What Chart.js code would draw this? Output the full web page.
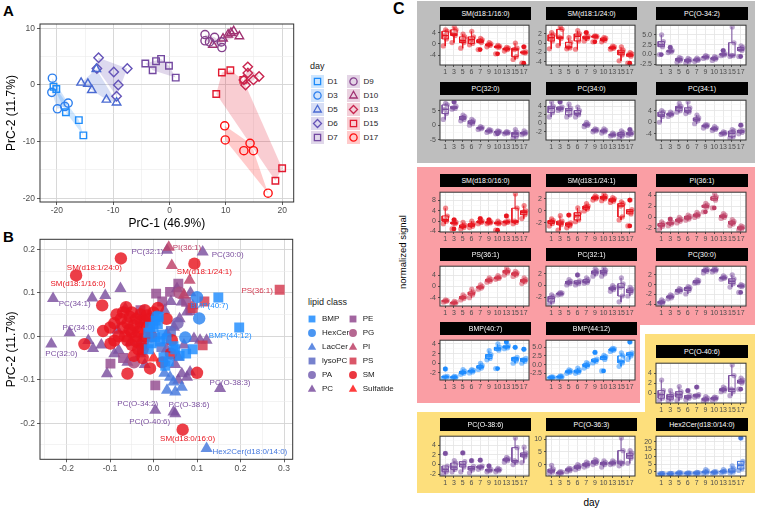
<!DOCTYPE html>
<html>
<head>
<meta charset="utf-8">
<script src="https://cdn.jsdelivr.net/npm/chart.js@4.4.1/dist/chart.umd.min.js"></script>
<style>
html,body{margin:0;padding:0;background:#fff}
body{position:relative;width:758px;height:509px;overflow:hidden;font-family:"Liberation Sans",Arial,Helvetica,sans-serif}
canvas{position:absolute}
.t{position:absolute;white-space:nowrap;line-height:1;color:#000}
.letter{font-weight:bold;font-size:15px}
.bg{position:absolute}
.strip{position:absolute;background:#000;color:#fff;font-size:7px;text-align:center;height:13px;line-height:13px;overflow:hidden;white-space:nowrap}
.key{position:absolute;display:flex;align-items:center}
.key span{font-size:8px;color:#1a1a1a;margin-left:4px}
.lt{position:absolute;white-space:nowrap;line-height:1;color:#1a1a1a;font-weight:normal;font-size:9px}
</style>
</head>
<body>
<div class="bg" style="left:417px;top:1px;width:338px;height:162px;background:#BEBEBE"></div>
<div class="bg" style="left:417px;top:167px;width:338px;height:158px;background:#FA9EA4"></div>
<div class="bg" style="left:417px;top:325px;width:223px;height:78px;background:#FA9EA4"></div>
<div class="bg" style="left:645px;top:334px;width:110px;height:78px;background:#FDDF7C"></div>
<div class="bg" style="left:417px;top:412px;width:338px;height:81px;background:#FDDF7C"></div>
<div class="t letter" style="left:3px;top:3px">A</div>
<div class="t letter" style="left:3px;top:228.5px">B</div>
<div class="t letter" style="left:393px;top:1px;font-size:16px">C</div>
<div class="t" style="left:403px;top:252px;font-size:9.5px;transform:translate(-50%,-50%) rotate(-90deg)">normalized signal</div>
<div class="t" style="left:591.5px;top:503px;font-size:10px;transform:translate(-50%,-50%)">day</div>
<div class="lt" style="left:310px;top:62px">day</div>
<div class="lt" style="left:308px;top:298px">lipid class</div>
<script>
// ================= DATA =================
// Panel A: PCA scores per day (PrC-1, PrC-2)
const dayNames = ['D1','D3','D5','D6','D7','D9','D10','D13','D15','D17'];
const scoresD1 = [[-20.6,-0.3],[-20.1,-0.7],[-18.4,-4.8],[-16.1,-6.2],[-15.3,-8.9]];
const scoresD3 = [[-20.8,1.2],[-20.9,-1.3],[-19.9,-4.2],[-18.6,-3.8],[-18.0,-3.2]];
const scoresD5 = [[-15.7,0.4],[-14.5,0.2],[-13.8,-0.9],[-13.0,2.8],[-11.2,-2.6],[-9.4,-3.1]];
const scoresD6 = [[-12.6,4.8],[-12.9,2.9],[-9.9,2.3],[-7.5,2.9],[-9.1,0.0],[-9.4,-2.0]];
const scoresD7 = [[-4.3,3.8],[-3.0,2.6],[-2.4,4.2],[-1.5,4.6],[-0.1,3.4],[1.1,1.3]];
const scoresD9 = [[6.3,8.9],[6.3,7.8],[8.0,8.4],[9.3,6.6],[7.1,7.6],[9.2,7.6]];
const scoresD10 = [[7.7,7.1],[10.4,8.9],[11.4,9.5],[12.4,8.6],[10.9,9.2],[9.5,8.2]];
const scoresD13 = [[13.9,3.2],[13.9,2.1],[13.2,0.9],[13.5,0.0],[14.9,0.9],[15.9,1.5]];
const scoresD15 = [[9.3,2.2],[10.8,2.6],[8.3,-1.6],[13.1,0.9],[18.8,-16.9],[20.0,-14.7]];
const scoresD17 = [[9.8,-7.2],[9.9,-9.7],[13.2,-11.6],[14.3,-10.3],[14.9,-11.6],[17.5,-19.1]];
const pcaTitleX = 'PrC-1 (46.9%)';
const pcaTitleY = 'PrC-2 (11.7%)';

// Panel B: loadings per lipid class
const classNames = ['BMP','HexCer','LacCer','lysoPC','PA','PC','PE','PG','PI','PS','SM','Sulfatide'];
const loadBMP = [[0.090,-0.030],[0.075,-0.040],[0.046,-0.023],[0.023,-0.048],[0.027,-0.068],[0.000,0.021],[0.004,-0.002],[-0.011,-0.030],[0.010,0.028],[0.005,0.036],[-0.012,0.008],[0.015,-0.012],[0.035,-0.058],[0.050,-0.030],[0.020,0.004],[-0.004,-0.016],[0.060,-0.045],[0.030,-0.005],[-0.008,0.022],[0.012,0.045]];
const loadHexCer = [[0.100,0.090],[0.105,0.041],[0.073,-0.003],[0.008,0.045]];
const loadLacCer = [[0.046,-0.105],[0.065,-0.117],[0.031,-0.124],[0.038,-0.094],[0.050,-0.128],[0.025,-0.085]];
const loadLysoPC = [[0.018,-0.025],[0.040,0.012]];
const loadPA = [[-0.028,-0.022],[0.055,0.030]];
const loadPC = [[-0.111,0.094],[-0.076,0.110],[-0.141,0.088],[-0.139,-0.028],[-0.107,-0.086],[-0.083,0.014],[-0.080,-0.032],[-0.053,-0.013],[0.054,0.110],[0.065,0.079],[0.077,0.056],[0.047,0.021],[0.093,-0.005],[0.122,-0.009],[0.057,-0.048],[0.065,-0.086],[0.084,-0.082],[0.077,-0.094],[0.057,-0.101],[0.031,0.006],[0.060,0.040],[0.070,-0.020],[-0.030,-0.040],[-0.060,-0.060],[-0.150,-0.010],[-0.120,-0.020],[0.040,0.080],[0.025,0.060],[0.085,0.100],[-0.020,-0.065],[0.050,-0.065],[-0.090,-0.040],[0.030,-0.030],[0.107,-0.009]];
const loadPE = [[0.006,0.098],[0.038,0.102],[0.057,0.121],[0.075,0.079],[-0.099,-0.063],[0.004,-0.113],[-0.030,0.060],[0.020,0.080],[-0.070,-0.050],[0.085,0.060]];
const loadPG = [[0.060,0.100],[-0.045,-0.060]];
const loadPI = [[0.042,0.163],[0.083,0.129],[-0.065,0.064],[0.070,0.095],[0.090,0.070]];
const loadPS = [[0.117,0.080],[0.113,-0.021],[0.090,0.065]];
const loadSM = [[-0.118,0.071],[-0.063,0.067],[-0.116,0.012],[-0.159,-0.018],[-0.099,-0.017],[-0.060,-0.086],[-0.008,-0.074],[0.100,-0.084],[0.042,-0.009],[-0.050,0.009],[-0.015,0.021],[-0.030,0.050],[-0.020,0.060],[-0.040,0.040],[-0.060,0.030],[-0.070,0.020],[-0.080,0.000],[-0.090,-0.010],[-0.050,-0.020],[-0.035,-0.030],[-0.045,-0.045],[-0.025,-0.050],[-0.010,0.040],[0.000,0.055],[-0.055,0.045],[-0.065,0.000],[-0.040,0.000],[-0.030,0.020],[-0.020,0.035],[-0.075,0.040],[-0.100,0.020],[0.010,0.065],[-0.005,0.000],[0.020,-0.060],[0.040,-0.040],[-0.085,0.050],[-0.025,-0.015],[0.030,0.040],[-0.045,0.025],[-0.035,0.010],[-0.055,0.015],[-0.020,0.000],[-0.060,-0.010],[-0.040,-0.012],[-0.030,0.035],[-0.050,0.055],[-0.015,0.048],[-0.070,0.055],[-0.090,0.030],[-0.025,-0.030]];
const loadSulfatide = [[-0.020,0.015],[0.000,-0.050]];
const labelNames = ['PC(32:1)','PI(36:1)','PC(30:0)','SM(d18:1/24:0)','SM(d18:1/16:0)','SM(d18:1/24:1)','PS(36:1)','PC(34:1)','BMP(40:7)','PC(34:0)','PC(32:0)','BMP(44:12)','PC(O-38:3)','PC(O-34:2)','PC(O-38:6)','PC(O-40:6)','SM(d18:0/16:0)','Hex2Cer(d18:0/14:0)'];
const labelClass = ['PC','PI','PC','SM','SM','SM','PS','PC','BMP','PC','PC','BMP','PC','PC','PC','PC','SM','LacCer'];
const labelX = [0.031,0.035,0.113,-0.075,-0.178,0.094,0.290,-0.231,0.149,-0.193,-0.235,0.197,0.153,0.004,0.046,0.050,0.067,0.122];
const labelY = [0.198,0.205,0.194,0.179,0.140,0.167,0.107,0.087,0.089,0.008,-0.018,0.020,-0.120,-0.170,-0.174,-0.178,-0.215,-0.258];

// Panel C: normalized signal per lipid, 10 days x replicates
const dayTicks = ['1','3','5','6','7','9','10','13','15','17'];
const cPanelNames = ['SM(d18:1/16:0)','SM(d18:1/24:0)','PC(O-34:2)','PC(32:0)','PC(34:0)','PC(34:1)','SM(d18:0/16:0)','SM(d18:1/24:1)','PI(36:1)','PS(36:1)','PC(32:1)','PC(30:0)','BMP(40:7)','BMP(44:12)','PC(O-40:6)','PC(O-38:6)','PC(O-36:3)','Hex2Cer(d18:0/14:0)'];
const cPanelClass = ['SM','SM','PC','PC','PC','PC','SM','SM','PI','PS','PC','PC','BMP','BMP','PC','PC','PC','LacCer'];
const cPanelTicks = [[-4,0,4],[-4,-2,0,2],[-2.5,0,2.5,5],[-5,0,5],[-4,-2,0,2,4],[-4,0,4],[-4,0,4,8],[-2,0,2],[-2,0,2,4],[-4,0,4],[-2,0,2],[-4,-2,0,2],[-2,0,2,4],[-2.5,0,2.5,5],[-2,0,2,4,6],[-2,0,2,4],[0,5,10],[0,5,10,15,20]];
const sigSM16 = [[-0.7,1.8,3.0,4.5,5.0],[0.5,3.0,3.5,5.0,6.0],[-1.5,0.5,1.2,2.5,3.5],[-0.3,0.2,1.5,2.5,4.5],[-2.0,0.5,1.0,1.5,2.0],[-1.0,-0.5,-0.3,0.0,0.5],[-3.5,-1.2,-1.0,-0.8,-0.5],[-2.5,-2.0,-1.8,-1.5,-1.2],[-5.5,-4.5,-2.0,-1.5,0.3],[-6.8,-3.2,-3.0,-2.8,-1.0]];
const sigSM24 = [[-1.2,0.5,1.2,1.8,2.3],[-0.5,1.0,1.3,3.0,3.5],[-1.2,-1.0,-0.8,0.2,1.2],[-1.3,0.5,1.5,2.0,2.7],[0.5,1.0,1.2,1.5,2.3],[0.3,1.3,1.5,1.5,1.6],[0.3,0.6,0.8,1.1,1.2],[-1.3,-1.1,-1.0,-0.8,-0.6],[-3.8,-2.5,-2.0,-1.5,-0.8],[-4.3,-2.8,-2.5,-2.3,-2.0]];
const sigPCO342 = [[0.0,2.0,2.5,3.3,5.0],[0.5,0.7,0.9,1.0,1.8],[-2.0,-1.6,-1.3,-1.0,-0.8],[-2.2,-1.8,-1.5,-1.3,-1.0],[-1.8,-1.5,-1.3,-1.2,-0.9],[-1.0,-0.8,-0.6,-0.5,-0.3],[-1.5,-1.2,-1.0,-0.8,-0.5],[-0.3,-0.1,0.0,0.2,1.0],[-0.5,-0.3,-0.2,3.0,7.0],[-0.5,1.0,1.3,1.8,2.2]];
const sigPC320 = [[2.0,4.0,5.5,7.0,7.5],[5.5,5.8,6.0,6.5,8.0],[1.5,2.0,2.5,3.0,3.5],[0.0,0.5,1.0,1.5,2.0],[-1.5,-1.2,-1.0,-0.8,-0.5],[-2.5,-2.2,-2.0,-1.8,-1.5],[-3.0,-2.5,-2.3,-2.2,-2.0],[-3.0,-2.8,-2.6,-2.5,-2.2],[-4.5,-4.0,-3.0,-2.5,-1.5],[-3.3,-3.0,-2.8,-2.5,-2.0]];
const sigPC340 = [[1.5,2.5,3.5,4.0,5.0],[3.0,3.2,3.5,3.8,5.0],[1.5,2.0,3.0,3.5,4.5],[1.5,2.0,2.3,3.0,3.8],[-0.8,-0.5,-0.3,-0.2,0.2],[-2.0,-1.8,-1.6,-1.5,-1.3],[-2.3,-2.0,-1.8,-1.6,-1.3],[-3.0,-2.8,-2.7,-2.6,-2.3],[-3.5,-3.0,-2.6,-2.2,-1.8],[-2.8,-2.6,-2.4,-2.2,-1.5]];
const sigPC341 = [[0.0,2.0,2.5,3.5,4.0],[2.0,2.5,2.8,3.0,3.5],[3.5,4.0,5.0,5.5,6.5],[3.0,3.5,4.0,5.0,7.0],[-0.5,0.5,1.0,1.5,2.5],[-2.0,-1.5,-1.2,-1.0,-0.8],[-2.8,-2.5,-2.2,-2.0,-1.5],[-4.2,-4.0,-3.8,-3.6,-3.3],[-5.5,-5.0,-3.8,-3.0,-2.5],[-4.0,-3.5,-3.0,-2.8,-1.0]];
const sigSM016 = [[-1.0,0.0,0.5,2.0,5.0],[-3.0,-1.0,-0.8,-0.5,0.5],[-3.0,-2.5,-2.0,-1.5,-0.5],[-2.5,-2.0,-1.5,-1.0,0.0],[-1.0,-0.5,-0.2,0.0,1.0],[-1.0,-0.7,-0.5,-0.3,0.5],[-3.5,-1.0,-0.8,-0.6,0.0],[-1.0,-0.5,-0.3,0.0,2.0],[-1.0,-0.5,0.0,5.0,10.5],[1.0,2.5,3.5,4.0,6.0]];
const sigSM241 = [[-2.5,-2.1,-1.8,-1.6,-1.3],[-3.2,-2.3,-2.0,-1.7,-0.8],[-2.8,-2.5,-2.2,-2.0,-0.7],[-1.8,-1.5,-0.8,-0.3,0.5],[0.0,0.3,0.6,0.8,1.2],[1.8,2.0,2.2,2.3,2.5],[1.7,2.0,2.2,2.4,2.8],[1.4,1.6,1.8,2.0,2.2],[-1.5,-1.0,0.8,1.2,1.5],[-2.5,-0.5,-0.1,0.2,1.8]];
const sigPI361 = [[-2.2,-1.6,-1.4,-1.1,-0.8],[-1.5,-1.2,-1.0,-0.9,-0.3],[-1.0,-0.7,-0.5,-0.3,0.0],[-0.5,-0.3,-0.1,0.2,0.4],[0.0,0.2,0.4,0.6,0.9],[1.0,1.8,2.0,2.2,2.5],[1.7,3.1,3.4,3.7,4.2],[-0.2,0.0,0.2,0.4,0.7],[-1.5,-1.2,-1.0,-0.7,-0.4],[-2.3,-2.1,-1.9,-1.7,-1.5]];
const sigPS361 = [[-5.6,-5.3,-5.2,-5.0,-4.8],[-6.3,-6.0,-5.8,-5.6,-5.3],[-4.8,-4.3,-4.0,-3.6,-3.0],[-4.0,-3.0,-2.5,-2.0,-1.0],[-1.0,-0.6,-0.3,0.0,0.5],[1.5,1.8,2.2,2.5,3.0],[2.5,2.8,3.0,3.3,3.8],[4.0,4.8,5.2,5.6,6.5],[3.5,4.0,4.5,4.8,5.3],[1.0,1.6,2.0,2.4,3.0]];
const sigPC321 = [[-3.2,-2.8,-2.2,-1.9,-1.6],[-1.6,-1.5,-1.4,-1.3,-1.2],[0.1,0.3,0.5,0.7,1.0],[0.1,0.3,0.5,0.8,1.8],[0.4,0.5,0.7,1.0,1.3],[1.6,2.0,2.3,2.5,2.9],[1.6,2.0,2.3,2.6,3.0],[-1.0,-0.7,-0.5,-0.3,0.0],[-2.8,-1.8,-0.3,0.3,1.3],[-1.8,-1.2,-0.9,-0.6,-0.3]];
const sigPC300 = [[-4.0,-3.8,-3.6,-3.4,-3.1],[-2.9,-2.7,-2.5,-2.3,-2.1],[-1.6,-1.4,-1.2,-1.0,-0.8],[-1.9,-1.2,-0.8,-0.6,-0.4],[0.3,0.4,0.5,0.8,1.0],[2.4,2.7,2.9,3.1,3.4],[2.6,2.8,3.0,3.1,3.4],[1.1,1.3,1.4,1.5,1.8],[-0.5,0.2,0.7,1.2,2.0],[-1.6,-0.4,-0.3,-0.2,0.0]];
const sigBMP407 = [[-3.1,-2.9,-2.8,-2.7,-1.2],[-3.1,-3.0,-2.9,-2.8,-2.7],[-2.3,-2.1,-1.9,-1.7,-1.3],[-2.0,-1.8,-1.6,-1.5,-1.3],[-1.3,-1.0,-0.8,-0.5,0.0],[0.7,1.0,1.5,1.8,2.6],[-1.1,2.7,3.0,3.3,4.0],[3.0,3.2,3.4,3.6,4.4],[0.0,0.5,0.9,1.2,3.3],[0.0,0.4,0.7,1.0,2.9]];
const sigBMP4412 = [[-3.9,-3.8,-3.7,-3.6,-3.5],[-3.8,-3.6,-3.5,-3.4,-3.2],[-2.5,-2.2,-2.0,-1.8,-1.5],[-2.5,-2.2,-1.9,-1.6,-1.0],[-1.0,-0.5,-0.2,0.2,0.6],[0.5,0.9,1.2,1.6,3.5],[-1.8,1.5,2.0,2.3,2.7],[3.8,4.1,4.3,4.5,4.7],[-0.5,0.5,1.0,2.5,3.4],[1.5,2.5,3.0,3.4,6.5]];
const sigPCO406 = [[-1.5,-1.0,-0.3,0.5,2.6],[-1.5,-1.2,-0.7,-0.3,0.5],[-1.5,-0.8,-0.3,0.3,1.3],[-1.3,-1.0,-0.8,-0.5,0.5],[-0.8,-0.6,-0.5,-0.3,1.2],[-1.6,-1.4,-1.2,-1.0,-0.7],[-1.4,-1.2,-1.0,-0.9,-0.8],[0.3,0.5,0.7,0.9,1.2],[-0.5,0.3,0.8,3.5,5.6],[0.8,2.0,2.3,2.6,3.0]];
const sigPCO386 = [[-2.0,-1.5,-1.0,-0.3,2.3],[-1.5,-1.0,-0.5,0.3,0.8],[-1.5,-0.5,0.0,0.6,2.4],[-1.7,-1.1,-0.8,-0.4,0.8],[-1.0,-0.7,-0.5,-0.3,0.9],[-1.5,-1.3,-1.2,-1.0,-0.3],[-1.5,-1.3,-1.1,-1.0,-0.8],[0.5,0.8,1.0,1.2,1.5],[0.0,0.5,0.8,3.5,5.5],[0.4,1.6,2.0,2.4,3.6]];
const sigPCO363 = [[-3.5,-3.0,-2.5,-1.8,-0.3],[-3.8,-3.5,-3.2,-3.0,-2.8],[-2.8,-2.4,-2.0,-1.7,-1.5],[-2.0,-1.5,-1.0,-0.5,0.0],[-1.0,-0.5,0.0,0.5,1.0],[0.0,0.5,1.0,1.5,2.0],[-1.0,0.0,0.5,0.8,1.5],[0.0,0.3,0.6,1.0,1.5],[-0.5,0.3,1.0,5.5,10.5],[0.5,2.5,3.5,4.5,5.5]];
const sigHex2Cer = [[-1.5,-1.3,-1.2,-1.1,-1.0],[-1.4,-1.3,-1.2,-1.1,-1.0],[-1.3,-1.0,-0.8,-0.6,-0.3],[-1.2,-1.0,-0.9,-0.8,-0.6],[-1.0,-0.8,-0.7,-0.5,-0.3],[-1.0,-0.5,0.0,0.5,1.5],[-0.8,-0.5,-0.3,0.0,0.3],[-0.5,0.0,0.3,0.6,1.5],[-0.5,-0.2,0.5,2.0,4.0],[1.0,2.0,4.5,7.0,22.5]];

// ================= STYLE / RENDER =================
const FONT = '"Liberation Sans", Arial, sans-serif';
const dayColors = ['#1E8CFA','#2E80EE','#4A6AD2','#6453B8','#7348A0','#84408C','#A03272','#C8244E','#E21A30','#FF1010'];
const dayShapes = ['rect','circle','triangle','rectRot','rect','circle','triangle','rectRot','rect','circle'];
const classColors = ['#1E8CFF','#2A84F0','#4477DD','#5E6BC4','#7560B2','#7B4F9F','#924A8F','#A84C7E','#BD3F66','#D4384E','#E8141E','#FF1A1A'];
const classShapes = ['rect','circle','triangle','rect','circle','triangle','rect','circle','triangle','rect','circle','triangle'];

const rgba = (h,a)=>{const n=parseInt(h.slice(1),16);return `rgba(${n>>16},${(n>>8)&255},${n&255},${a})`;};
const isMaj = (v, arr) => v !== undefined && arr.some(m => Math.abs(m - v) < 1e-6);
function gridVals(min,max,step){const out=[];for(let k=Math.ceil(min/step-1e-9);k*step<=max+1e-9;k++){out.push(Math.round(k*step*1e6)/1e6);}return out;}
function hull(pts){const p=pts.map(q=>q.slice()).sort((a,b)=>a[0]-b[0]||a[1]-b[1]);const cr=(o,a,b)=>(a[0]-o[0])*(b[1]-o[1])-(a[1]-o[1])*(b[0]-o[0]);const lo=[],up=[];for(const q of p){while(lo.length>=2&&cr(lo[lo.length-2],lo[lo.length-1],q)<=0)lo.pop();lo.push(q);}for(let i=p.length-1;i>=0;i--){const q=p[i];while(up.length>=2&&cr(up[up.length-2],up[up.length-1],q)<=0)up.pop();up.push(q);}up.pop();lo.pop();return lo.concat(up);}
function quant(s,p){const h=(s.length-1)*p,l=Math.floor(h);return l+1<s.length? s[l]+(h-l)*(s[l+1]-s[l]) : s[l];}

const framePlugin = {id:'frame',
  beforeDraw(ch){const a=ch.chartArea,c=ch.ctx;c.save();c.fillStyle='#fff';c.fillRect(a.left,a.top,a.right-a.left,a.bottom-a.top);c.restore();},
  afterDraw(ch){const a=ch.chartArea,c=ch.ctx;c.save();c.strokeStyle='#333';c.lineWidth=1;c.strokeRect(a.left,a.top,a.right-a.left,a.bottom-a.top);c.restore();}};

function makeScale(o){
  return {type:'linear',min:o.min,max:o.max,position:o.pos,
    afterBuildTicks:s=>{s.ticks=o.vals.map(v=>({value:v}));},
    afterFit:s=>{if(o.pos==='left')s.width=o.size;else s.height=o.size;},
    ticks:{autoSkip:false,maxRotation:0,minRotation:0,padding:o.pad,color:'#4D4D4D',font:{family:FONT,size:o.fs},
      callback:v=>isMaj(v,o.majors)?o.fmt(v):''},
    grid:{drawTicks:true,tickLength:o.tl,
      color:c=>isMaj(c.tick&&c.tick.value,o.majors)?o.gMaj:o.gMin,
      lineWidth:c=>isMaj(c.tick&&c.tick.value,o.majors)?o.wMaj:o.wMin,
      tickColor:c=>isMaj(c.tick&&c.tick.value,o.majors)?'#333':'rgba(0,0,0,0)',tickWidth:0.8},
    border:{display:false},
    title:o.title?{display:true,text:o.title,color:'#000',font:{family:FONT,size:o.tfs},padding:o.tpad}:{display:false}};
}

function mk(left,top,w,h,config){
  const cv=document.createElement('canvas');
  cv.width=w;cv.height=h;cv.style.left=left+'px';cv.style.top=top+'px';cv.style.width=w+'px';cv.style.height=h+'px';
  document.body.appendChild(cv);
  config.options=Object.assign({responsive:false,animation:false,devicePixelRatio:1,events:[]},config.options);
  config.options.plugins=Object.assign({legend:{display:false},tooltip:{enabled:false}},config.options.plugins||{});
  config.plugins=(config.plugins||[]).concat([framePlugin]);
  return new Chart(cv.getContext('2d'),config);
}

// ---------- Panel A ----------
const pcaSets=[scoresD1,scoresD3,scoresD5,scoresD6,scoresD7,scoresD9,scoresD10,scoresD13,scoresD15,scoresD17];
const shapeRadA={rect:4.6,circle:4.1,triangle:4.9,rectRot:4.7};
const dsA=[];
pcaSets.forEach((pts,i)=>{const h=hull(pts);h.push(h[0]);
  dsA.push({type:'line',data:h.map(p=>({x:p[0],y:p[1]})),fill:'shape',backgroundColor:rgba(dayColors[i],0.22),borderColor:'rgba(0,0,0,0)',borderWidth:0,pointRadius:0,tension:0,order:20});});
pcaSets.forEach((pts,i)=>{
  dsA.push({type:'scatter',data:pts.map(p=>({x:p[0],y:p[1]})),pointStyle:dayShapes[i],pointRadius:shapeRadA[dayShapes[i]],backgroundColor:'rgba(0,0,0,0)',borderColor:dayColors[i],borderWidth:1.4,order:1});});
mk(0,0,300,231,{type:'scatter',data:{datasets:dsA},options:{
  layout:{padding:{top:24,right:3.3,left:0,bottom:0}},
  scales:{
    x:makeScale({min:-23.0,max:22.05,pos:'bottom',vals:gridVals(-23,22.05,5),majors:[-20,-10,0,10,20],fmt:v=>String(v),size:29,pad:1,fs:8.5,tl:3,gMaj:'#D4D4D4',gMin:'#EBEBEB',wMaj:0.9,wMin:0.6,title:pcaTitleX,tfs:12,tpad:{top:0,bottom:0}}),
    y:makeScale({min:-20.65,max:10.76,pos:'left',vals:gridVals(-20.65,10.76,5),majors:[-20,-10,0,10],fmt:v=>String(v),size:40,pad:2,fs:8.5,tl:3,gMaj:'#D4D4D4',gMin:'#EBEBEB',wMaj:0.9,wMin:0.6,title:pcaTitleY,tfs:12,tpad:{top:4,bottom:0}})}}});

// legend A
function svgShape(shape,color,filled,s,r){
  const c=s/2;const st=filled?`fill="${color}"`:`fill="none" stroke="${color}" stroke-width="1.3"`;
  if(shape==='rect'){const h=r*0.78;return `<rect x="${c-h}" y="${c-h}" width="${2*h}" height="${2*h}" ${st}/>`;}
  if(shape==='circle')return `<circle cx="${c}" cy="${c}" r="${r*0.9}" ${st}/>`;
  if(shape==='triangle')return `<polygon points="${c},${c-r*1.05} ${c+r*0.95},${c+r*0.62} ${c-r*0.95},${c+r*0.62}" ${st}/>`;
  return `<polygon points="${c},${c-r} ${c+r},${c} ${c},${c+r} ${c-r},${c}" ${st}/>`;
}
dayNames.forEach((n,i)=>{
  const col=i<5?0:1,row=i%5;
  const d=document.createElement('div');d.className='key';
  d.style.left=(col?346.5:310.5)+'px';d.style.top=(74.5+row*14)+'px';
  d.innerHTML=`<svg width="13" height="13" style="background:${rgba(dayColors[i],0.22)}">${svgShape(dayShapes[i],dayColors[i],false,13,4)}</svg><span>${n}</span>`;
  document.body.appendChild(d);
});

// ---------- Panel B ----------
const classLoads={BMP:loadBMP,HexCer:loadHexCer,LacCer:loadLacCer,lysoPC:loadLysoPC,PA:loadPA,PC:loadPC,PE:loadPE,PG:loadPG,PI:loadPI,PS:loadPS,SM:loadSM,Sulfatide:loadSulfatide};
const shapeRadB={rect:7.0,circle:6.2,triangle:7.0};
const drawSeq=['PC','PE','PG','PI','PS','lysoPC','PA','SM','Sulfatide','LacCer','HexCer','BMP'];
const dsB=drawSeq.map((cls,k)=>{
  const ci=classNames.indexOf(cls);
  const pts=classLoads[cls].map(p=>({x:p[0],y:p[1]}));
  labelNames.forEach((n,j)=>{if(labelClass[j]===cls)pts.push({x:labelX[j],y:labelY[j]});});
  return {data:pts,pointStyle:classShapes[ci],pointRadius:shapeRadB[classShapes[ci]],backgroundColor:rgba(classColors[ci],0.82),borderWidth:0,order:drawSeq.length-k};
});
const labelOffsets=[[-3.5,2,'right'],[4,0.5,'left'],[9,3.3,'left'],[-26.5,9,'center'],[2,8.3,'center'],[10,8.4,'center'],[-6.7,1.4,'right'],[5.6,5.7,'left'],[-9,8.7,'center'],[9,-5.4,'center'],[10,10,'center'],[-9,8.7,'center'],[10,-6,'center'],[-17.5,-6.7,'center'],[15.5,-6.7,'center'],[-25.5,8.4,'center'],[5,9,'center'],[6,3.4,'left']];
const labelPlugin={id:'lbl',afterDatasetsDraw(ch){const c=ch.ctx,xs=ch.scales.x,ys=ch.scales.y;c.save();c.font='8px '+FONT;c.textBaseline='middle';
  labelNames.forEach((n,j)=>{const px=xs.getPixelForValue(labelX[j]),py=ys.getPixelForValue(labelY[j]);const o=labelOffsets[j];
    c.fillStyle=classColors[classNames.indexOf(labelClass[j])];c.textAlign=o[2];c.fillText(n,px+o[0],py+o[1]);});c.restore();}};
mk(0,230,300,251,{type:'scatter',data:{datasets:dsB},plugins:[labelPlugin],options:{
  layout:{padding:{top:9.3,right:7.3,left:0,bottom:0}},
  scales:{
    x:makeScale({min:-0.261,max:0.32,pos:'bottom',vals:gridVals(-0.261,0.32,0.05),majors:[-0.2,-0.1,0,0.1,0.2,0.3],fmt:v=>v.toFixed(1),size:21.7,pad:1,fs:8.5,tl:3,gMaj:'#D4D4D4',gMin:'#EBEBEB',wMaj:0.9,wMin:0.6}),
    y:makeScale({min:-0.283,max:0.223,pos:'left',vals:gridVals(-0.283,0.223,0.05),majors:[-0.2,-0.1,0,0.1,0.2],fmt:v=>v.toFixed(1),size:40,pad:2,fs:8.5,tl:3,gMaj:'#D4D4D4',gMin:'#EBEBEB',wMaj:0.9,wMin:0.6,title:pcaTitleY,tfs:12,tpad:{top:4,bottom:0}})}}});

// legend B
classNames.forEach((n,i)=>{
  const col=i<6?0:1,row=i%6;
  const d=document.createElement('div');d.className='key';
  d.style.left=(col?346.7:306)+'px';d.style.top=(312.5+row*14)+'px';
  d.innerHTML=`<svg width="12" height="12">${svgShape(classShapes[i],rgba(classColors[i],0.85),true,12,4.4)}</svg><span>${n}</span>`;
  document.body.appendChild(d);
});

// ---------- Panel C ----------
const cSignals=[sigSM16,sigSM24,sigPCO342,sigPC320,sigPC340,sigPC341,sigSM016,sigSM241,sigPI361,sigPS361,sigPC321,sigPC300,sigBMP407,sigBMP4412,sigPCO406,sigPCO386,sigPCO363,sigHex2Cer];
const cLayout=[[440,531,7],[546,637,7],[656,748,7],[440,531,82],[546,637,82],[656,748,82],[440,531,174],[546,637,174],[656,748,174],[440,531,248],[546,637,248],[656,748,248],[440,531,322],[546,637,322],[656,748,345],[440,531,418],[546,637,418],[656,748,418]];
const JIT=[-0.22,0.14,-0.06,0.24,0.04];
cSignals.forEach((data,p)=>{
  const [L,R,T]=cLayout[p];
  const col=classColors[classNames.indexOf(cPanelClass[p])];
  const all=data.flat();let lo=Math.min(...all),hi=Math.max(...all);const rg=hi-lo;lo-=0.05*rg;hi+=0.05*rg;
  const majors=cPanelTicks[p];const step=(majors[1]-majors[0])/2;
  const dec=majors.some(m=>!Number.isInteger(m));
  const pts=[],outs=[],box=[],med=[];
  data.forEach((vals,i)=>{
    const xi=i+1,s=vals.slice().sort((a,b)=>a-b);
    const q1=quant(s,.25),q2=quant(s,.5),q3=quant(s,.75),iqr=q3-q1;
    const inR=s.filter(v=>v>=q1-1.5*iqr-1e-9&&v<=q3+1.5*iqr+1e-9);
    const wl=Math.min(...inR),wh=Math.max(...inR);
    s.filter(v=>v<q1-1.5*iqr-1e-9||v>q3+1.5*iqr+1e-9).forEach(v=>outs.push({x:xi,y:v}));
    vals.forEach((v,k)=>pts.push({x:xi+JIT[k%JIT.length],y:v}));
    const hw=0.36;
    box.push({x:xi-hw,y:q1},{x:xi+hw,y:q1},{x:xi+hw,y:q3},{x:xi-hw,y:q3},{x:xi-hw,y:q1},{x:xi,y:null},
             {x:xi,y:q3},{x:xi,y:wh},{x:xi,y:null},{x:xi,y:q1},{x:xi,y:wl},{x:xi,y:null});
    med.push({x:xi-hw,y:q2},{x:xi+hw,y:q2},{x:xi,y:null});
  });
  const strip=document.createElement('div');strip.className='strip';
  strip.style.left=L+'px';strip.style.top=T+'px';strip.style.width=(R-L)+'px';strip.textContent=cPanelNames[p];
  document.body.appendChild(strip);
  const yw=24,xh=12;
  mk(L-yw,T+12,(R-L)+yw+2,45+1+xh,{type:'scatter',data:{datasets:[
      {type:'line',data:box,borderColor:col,borderWidth:1,pointRadius:0,spanGaps:false,fill:false,tension:0,order:5},
      {type:'line',data:med,borderColor:col,borderWidth:1.6,pointRadius:0,spanGaps:false,fill:false,tension:0,order:4},
      {data:pts,pointStyle:'circle',pointRadius:2.6,backgroundColor:rgba(col,0.5),borderWidth:0,order:2},
      {data:outs,pointStyle:'circle',pointRadius:2.4,backgroundColor:col,borderWidth:0,order:1}]},
    options:{layout:{padding:{top:1,right:2,left:0,bottom:0}},
      scales:{
        x:makeScale({min:0.4,max:10.6,pos:'bottom',vals:[1,2,3,4,5,6,7,8,9,10],majors:[1,2,3,4,5,6,7,8,9,10],fmt:v=>dayTicks[Math.round(v)-1],size:xh,pad:1,fs:7,tl:2,gMaj:'#E3E3E3',gMin:'#F0F0F0',wMaj:0.8,wMin:0.5}),
        y:makeScale({min:lo,max:hi,pos:'left',vals:gridVals(lo,hi,step),majors:majors,fmt:v=>dec?v.toFixed(1):String(v),size:yw,pad:2,fs:7,tl:2,gMaj:'#E3E3E3',gMin:'#F2F2F2',wMaj:0.8,wMin:0.5})}}});
});
</script>
</body>
</html>
